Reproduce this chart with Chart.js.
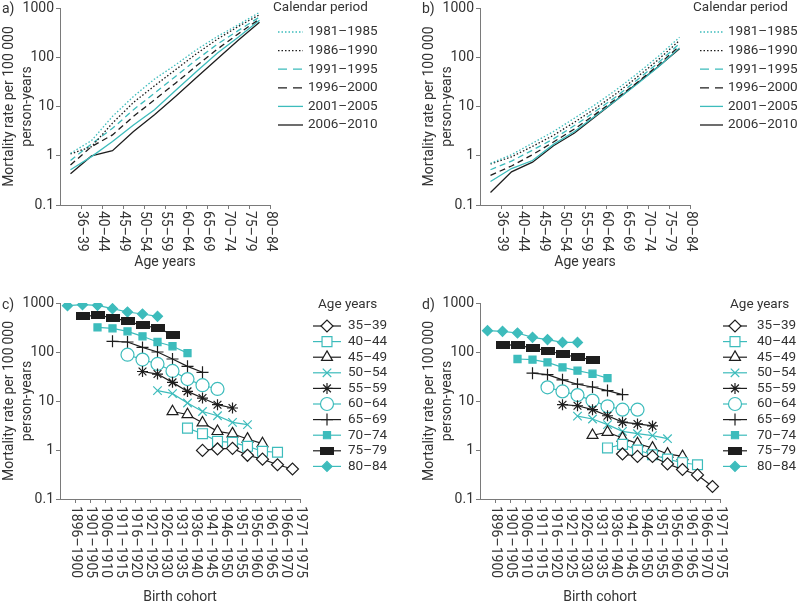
<!DOCTYPE html>
<html>
<head>
<meta charset="utf-8">
<script src="https://cdn.jsdelivr.net/npm/chart.js@4.4.1/dist/chart.umd.min.js"></script>
<style>
  body { margin: 0; background: #fff; width: 798px; height: 607px; position: relative; overflow: hidden; }
  canvas { position: absolute; }
  .tag { position: absolute; font: 14px Roboto, sans-serif; color: #333; line-height: 16px; }
</style>
</head>
<body>
<canvas id="pa" width="400" height="290" style="left:0;top:0"></canvas>
<canvas id="pb" width="398" height="290" style="left:400px;top:0"></canvas>
<canvas id="pc" width="400" height="317" style="left:0;top:290px"></canvas>
<canvas id="pd" width="398" height="317" style="left:400px;top:290px"></canvas>
<div class="tag" style="left:2px;top:0">a)</div>
<div class="tag" style="left:422px;top:0">b)</div>
<div class="tag" style="left:2px;top:296px">c)</div>
<div class="tag" style="left:422px;top:296px">d)</div>
<script>
// ---- data ---------------------------------------------------------------
const ageGroups = ['36–39', '40–44', '45–49', '50–54', '55–59', '60–64', '65–69', '70–74', '75–79', '80–84'];
const periods = ['1981–1985', '1986–1990', '1991–1995', '1996–2000', '2001–2005', '2006–2010'];
const cohorts = ['1896–1900', '1901–1905', '1906–1910', '1911–1915', '1916–1920', '1921–1925', '1926–1930', '1931–1935',
  '1936–1940', '1941–1945', '1946–1950', '1951–1955', '1956–1960', '1961–1965', '1966–1970', '1971–1975'];
const ageLegend = ['35–39', '40–44', '45–49', '50–54', '55–59', '60–64', '65–69', '70–74', '75–79', '80–84'];
const yTicks = [0.1, 1, 10, 100, 1000];

// panel a: rate by age, one line per calendar period
const a1981 = [1.12, 2.03, 6.3, 16, 36, 70, 142, 265, 458, 816];
const a1986 = [1.09, 1.53, 4.6, 12.1, 26.3, 55.7, 118, 234, 424, 731];
const a1991 = [0.80, 1.74, 3.6, 8.6, 18.7, 40.7, 89, 185, 351, 656];
const a1996 = [0.65, 1.53, 2.65, 6.3, 13.7, 29.8, 67, 147, 301, 598];
const a2001 = [0.52, 0.96, 1.94, 4.2, 8.6, 21.2, 51.5, 122, 257, 561];
const a2006 = [0.43, 0.99, 1.27, 3.1, 6.8, 16, 38.9, 93, 223, 511];

// panel b
const b1981 = [0.70, 1.05, 1.8, 3.1, 5.8, 11, 22, 47, 105, 255];
const b1986 = [0.68, 0.95, 1.55, 2.6, 4.8, 9.2, 18.5, 40, 90, 220];
const b1991 = [0.52, 0.78, 1.3, 2.2, 4.1, 8.0, 16, 35, 78, 190];
const b1996 = [0.40, 0.62, 1.05, 1.9, 3.5, 7.0, 14.5, 31, 70, 170];
const b2001 = [0.30, 0.55, 0.80, 1.7, 3.1, 6.5, 13.5, 29, 64, 155];
const b2006 = [0.18, 0.47, 0.74, 1.6, 2.9, 6.3, 13.5, 30, 65, 148];

// panel c: rate by birth cohort, one line per age group (7 cohorts each)
const c35 = [0.98, 1.05, 1.08, 0.78, 0.65, 0.50, 0.41];
const c40 = [2.8, 2.15, 1.5, 1.43, 1.19, 0.94, 0.90];
const c45 = [6.1, 5.3, 3.6, 2.4, 2.15, 1.68, 1.35];
const c50 = [16.3, 14.1, 9.1, 6.1, 5.0, 3.67, 3.3];
const c55 = [40, 35.5, 24, 15.7, 11.5, 8.4, 7.2];
const c60 = [88, 70, 57, 41, 28, 21, 17.6];
const c65 = [165, 160, 124, 100, 72, 51, 38.5];
const c70 = [318, 304, 264, 209, 160, 131, 95];
const c75 = [535, 560, 502, 423, 350, 309, 226];
const c80 = [883, 925, 896, 766, 655, 596, 535];

// panel d
const d35 = [0.83, 0.74, 0.74, 0.52, 0.40, 0.31, 0.18];
const d40 = [1.1, 1.3, 1.0, 0.80, 0.65, 0.55, 0.50];
const d45 = [2.0, 2.3, 1.76, 1.35, 1.1, 0.83, 0.74];
const d50 = [4.9, 4.3, 3.3, 2.4, 2.15, 1.96, 1.7];
const d55 = [8.4, 8.0, 6.65, 5.0, 3.7, 3.4, 3.1];
const d60 = [19, 15.7, 13.2, 10.2, 7.8, 6.65, 6.65];
const d65 = [37, 34.5, 27, 22, 19.3, 16.3, 13.5];
const d70 = [72, 70, 61.5, 48.6, 41.6, 36, 29.4];
const d75 = [141, 137, 121, 106, 90, 78, 70];
const d80 = [272, 264, 244, 199, 179, 157, 157];

// ---- styling ------------------------------------------------------------
const CYAN = '#3dbcbc';
const BLACK = '#1e1e1e';
const AXIS = '#7a7a7a';
const TEXT = '#333333';
const FONT = 'Roboto, "Open Sans", sans-serif';

const periodStyles = [
  { color: CYAN, dash: [1.5, 2] },
  { color: BLACK, dash: [1.5, 2] },
  { color: CYAN, dash: [6, 4] },
  { color: BLACK, dash: [6, 4] },
  { color: CYAN, dash: [] },
  { color: BLACK, dash: [] },
];

function barMarker() {
  const c = document.createElement('canvas');
  c.width = 14; c.height = 8;
  const g = c.getContext('2d');
  g.fillStyle = BLACK;
  g.fillRect(0, 0, 14, 8);
  return c;
}

const ageStyles = [
  { style: 'rectRot', r: 6, color: BLACK, fill: '#fff' },
  { style: 'rect', r: 7, color: CYAN, fill: '#fff' },
  { style: 'triangle', r: 6.3, color: BLACK, fill: '#fff' },
  { style: 'crossRot', r: 6, color: CYAN, fill: CYAN },
  { style: 'star', r: 5.5, color: BLACK, fill: BLACK },
  { style: 'circle', r: 6.5, color: CYAN, fill: '#fff' },
  { style: 'cross', r: 6, color: BLACK, fill: BLACK },
  { style: 'rect', r: 5, color: CYAN, fill: CYAN },
  { style: barMarker(), r: 7, color: BLACK, fill: BLACK },
  { style: 'rectRot', r: 5, color: CYAN, fill: CYAN },
];

// ---- plugins ------------------------------------------------------------
// x tick labels rotated clockwise, starting just under the axis
const xLabelPlugin = {
  id: 'xLabels',
  afterDraw(chart, args, o) {
    const s = chart.scales.x;
    const ctx = chart.ctx;
    ctx.save();
    ctx.font = `14px ${FONT}`;
    ctx.fillStyle = TEXT;
    ctx.textAlign = 'left';
    ctx.textBaseline = 'middle';
    o.labels.forEach((lab, i) => {
      ctx.save();
      ctx.translate(s.getPixelForValue(i + 1), s.top + o.gap);
      ctx.rotate(Math.PI / 2);
      ctx.fillText(lab, 0, 0);
      ctx.restore();
    });
    ctx.restore();
  },
};

const sideLegend = {
  id: 'sideLegend',
  afterDraw(chart, args, o) {
    const ctx = chart.ctx;
    ctx.save();
    ctx.font = `13.5px ${FONT}`;
    ctx.textBaseline = 'middle';
    ctx.textAlign = 'left';
    ctx.fillStyle = TEXT;
    ctx.fillText(o.title, o.titleX, o.titleY);
    chart.data.datasets.forEach((ds, i) => {
      const y = o.y0 + i * o.gap;
      ctx.strokeStyle = ds.borderColor;
      ctx.lineWidth = ds.borderWidth;
      ctx.setLineDash(o.dashes ? o.dashes[i] : []);
      ctx.beginPath();
      ctx.moveTo(o.x0, y);
      ctx.lineTo(o.x1, y);
      ctx.stroke();
      ctx.setLineDash([]);
      if (o.markers) {
        ctx.fillStyle = ds.pointBackgroundColor;
        ctx.strokeStyle = ds.pointBorderColor;
        ctx.lineWidth = ds.pointBorderWidth;
        Chart.helpers.drawPoint(ctx, {
          pointStyle: ds.pointStyle, radius: ds.pointRadius,
          borderWidth: ds.pointBorderWidth, rotation: 0,
        }, (o.x0 + o.x1) / 2, y);
      }
      ctx.fillStyle = TEXT;
      ctx.fillText(ds.label, o.textX, y);
    });
    ctx.restore();
  },
};

// ---- axes ---------------------------------------------------------------
function yAxis(titleText) {
  return {
    type: 'logarithmic', min: 0.1, max: 1000,
    afterBuildTicks: (s) => { s.ticks = yTicks.map((v) => ({ value: v })); },
    afterFit: (s) => { s.width = 60; s.paddingTop = 0; s.paddingBottom = 0; },
    ticks: { color: TEXT, font: { family: FONT, size: 14 }, padding: 2, callback: (v) => String(v) },
    grid: { display: true, drawOnChartArea: false, drawTicks: true, tickLength: 4, color: AXIS },
    border: { display: true, color: AXIS, width: 1 },
    title: {
      display: true, text: [titleText, 'person-years'], color: TEXT,
      font: { family: FONT, size: 14, lineHeight: 1.3 }, padding: { top: 0, bottom: 0 },
    },
  };
}

function xAxis(n, height, titleText) {
  return {
    type: 'linear', min: 0, max: n,
    afterBuildTicks: (s) => { s.ticks = Array.from({ length: n }, (_, i) => ({ value: i + 1 })); },
    afterFit: (s) => { s.height = height; s.paddingLeft = 0; s.paddingRight = 0; },
    ticks: { display: false },
    grid: { display: true, drawOnChartArea: false, drawTicks: true, tickLength: 4, color: AXIS },
    border: { display: true, color: AXIS, width: 1 },
    title: {
      display: true, text: titleText, color: TEXT,
      font: { family: FONT, size: 14, lineHeight: 1.3 }, padding: { top: 0, bottom: 0 },
    },
  };
}

// ---- panels -------------------------------------------------------------
function periodChart(id, series, pad, yTitle, legendPos) {
  const datasets = series.map((vals, i) => ({
    label: periods[i],
    data: vals.map((v, j) => ({ x: j + 0.5, y: v })),
    borderColor: periodStyles[i].color,
    borderDash: periodStyles[i].dash,
    borderWidth: 1.3,
    pointRadius: 0,
    tension: 0,
  }));
  return new Chart(document.getElementById(id), {
    type: 'line',
    data: { datasets },
    plugins: [xLabelPlugin, sideLegend],
    options: {
      responsive: false,
      animation: false,
      layout: { padding: pad },
      scales: { x: xAxis(ageGroups.length, pad.xh, 'Age years'), y: yAxis(yTitle) },
      plugins: {
        legend: { display: false },
        tooltip: { enabled: false },
        xLabels: { labels: ageGroups, gap: 6 },
        sideLegend: Object.assign({
          title: 'Calendar period', y0: 32, gap: 18.6, titleY: 8,
          dashes: periodStyles.map((p) => (p.dash.length ? (p.dash[0] > 2 ? [9, 6] : [1.5, 2]) : [])),
        }, legendPos),
      },
    },
  });
}

function cohortChart(id, series, pad, legendPos) {
  const datasets = series.map((vals, k) => {
    const first = ageLegend.length - 1 - k;
    const st = ageStyles[k];
    return {
      label: ageLegend[k],
      data: vals.map((v, j) => ({ x: first + j + 0.5, y: v })),
      borderColor: st.color,
      borderWidth: 1.2,
      pointStyle: st.style,
      pointRadius: st.r,
      pointHoverRadius: st.r,
      pointBackgroundColor: st.fill,
      pointBorderColor: st.color,
      pointBorderWidth: 1.2,
      tension: 0,
    };
  });
  return new Chart(document.getElementById(id), {
    type: 'line',
    data: { datasets },
    plugins: [xLabelPlugin, sideLegend],
    options: {
      responsive: false,
      animation: false,
      layout: { padding: pad },
      scales: { x: xAxis(cohorts.length, pad.xh, 'Birth cohort'), y: yAxis('Mortality rate per 100\u2009000') },
      plugins: {
        legend: { display: false },
        tooltip: { enabled: false },
        xLabels: { labels: cohorts, gap: 7 },
        sideLegend: Object.assign({ title: 'Age years', y0: 36, gap: 15.6, titleY: 15, markers: true }, legendPos),
      },
    },
  });
}

periodChart('pa', [a1981, a1986, a1991, a1996, a2001, a2006],
  { left: 0, top: 8, right: 130, bottom: 18, xh: 67 }, 'Mortality rate per 100 000',
  { titleX: 273, x0: 278, x1: 303, textX: 308 });
periodChart('pb', [b1981, b1986, b1991, b1996, b2001, b2006],
  { left: 20, top: 8, right: 108, bottom: 18, xh: 67 }, 'Mortality rate per 100\u2009000',
  { titleX: 293, x0: 300, x1: 323, textX: 328 });
cohortChart('pc', [c35, c40, c45, c50, c55, c60, c65, c70, c75, c80],
  { left: 0, top: 13, right: 100, bottom: 0, xh: 108 },
  { titleX: 318, x0: 313, x1: 341, textX: 348 });
cohortChart('pd', [d35, d40, d45, d50, d55, d60, d65, d70, d75, d80],
  { left: 20, top: 13, right: 78, bottom: 0, xh: 108 },
  { titleX: 330, x0: 323, x1: 347, textX: 357 });
</script>
</body>
</html>
